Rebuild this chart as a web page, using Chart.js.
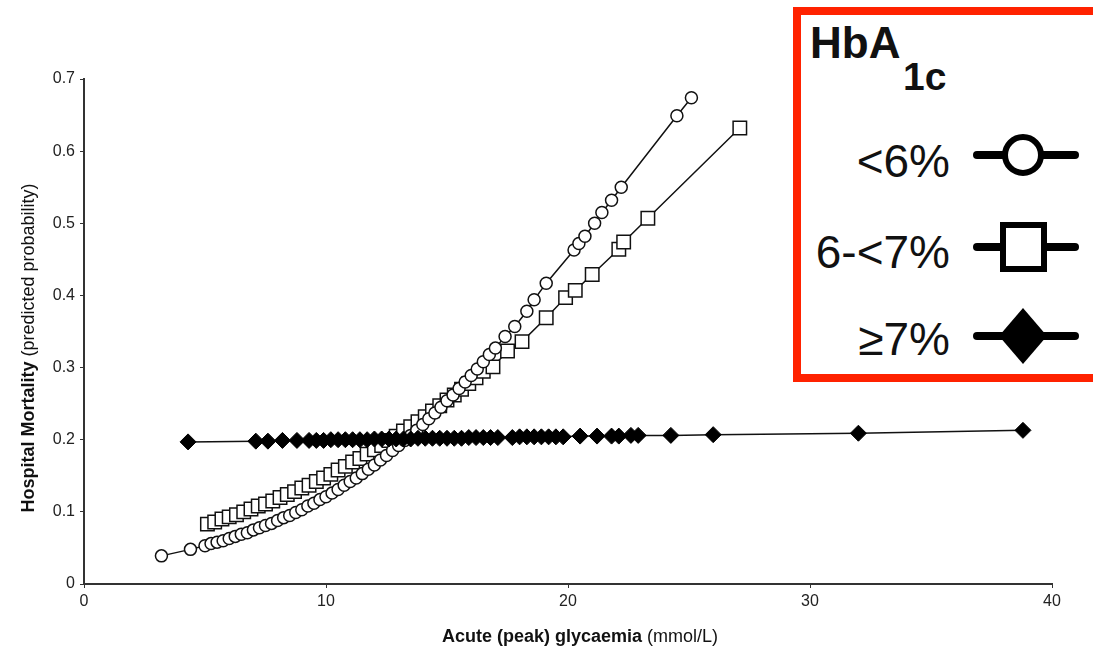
<!DOCTYPE html>
<html>
<head>
<meta charset="utf-8">
<script src="https://cdn.jsdelivr.net/npm/chart.js@4.4.0/dist/chart.umd.min.js"></script>
<style>
  body { margin: 0; background: #fff; }
  #wrap { position: relative; width: 1093px; height: 653px; }
  #grafico { position: absolute; left: 0; top: 0; }
  #capa { position: absolute; left: 0; top: 0; pointer-events: none; }
  #capa text { font-family: "Liberation Sans", Arial, sans-serif; fill: #111; }
</style>
</head>
<body>
<div id="wrap">
  <canvas id="grafico" width="1093" height="653"></canvas>
  <svg id="capa" width="1093" height="653">
    <!-- títulos de ejes -->
    <text x="580" y="642" text-anchor="middle" font-size="18"><tspan font-weight="bold">Acute (peak) glycaemia</tspan> (mmol/L)</text>
    <text transform="translate(34,348) rotate(-90)" text-anchor="middle" font-size="18"><tspan font-weight="bold">Hospital Mortality</tspan> (predicted probability)</text>

    <!-- leyenda HbA1c -->
    <rect x="797" y="11" width="310" height="367" fill="#fff" stroke="#ff2200" stroke-width="8"/>
    <text x="810" y="58" font-size="44" font-weight="bold">HbA</text>
    <text x="903" y="90" font-size="39" font-weight="bold">1c</text>

    <text x="950" y="177" font-size="46" text-anchor="end">&lt;6%</text>
    <text x="950" y="268" font-size="46" text-anchor="end">6-&lt;7%</text>
    <text x="950" y="355" font-size="46" text-anchor="end">≥7%</text>

    <g stroke="#000" stroke-width="8" stroke-linecap="round">
      <line x1="977" y1="155" x2="1075" y2="155"/>
      <line x1="977" y1="247" x2="1075" y2="247"/>
      <line x1="977" y1="336" x2="1075" y2="336"/>
    </g>
    <circle cx="1023" cy="155" r="18" fill="#fff" stroke="#000" stroke-width="6"/>
    <rect x="1003" y="225" width="41" height="44" fill="#fff" stroke="#000" stroke-width="6"/>
    <polygon points="1023,308 1047,336 1023,364 999,336" fill="#000"/>
  </svg>
</div>

<script>
// ==========================================
// DATOS
// ==========================================

// HbA1c < 6%  (círculos)
const circX = [3.2, 4.4,
  5.0, 5.25, 5.5, 5.75, 6.0, 6.25, 6.5, 6.75, 7.0, 7.25, 7.5, 7.75,
  8.0, 8.25, 8.5, 8.75, 9.0, 9.25, 9.5, 9.75, 10.0, 10.25, 10.5, 10.75,
  11.0, 11.25, 11.5, 11.75, 12.0, 12.25, 12.5, 12.75, 13.0, 13.25, 13.5, 13.75,
  14.0, 14.25, 14.5, 14.75, 15.0, 15.25, 15.5, 15.75, 16.0, 16.25, 16.5, 16.75, 17.0,
  17.4, 17.8, 18.3, 18.6, 19.1, 20.25, 20.45, 20.7, 21.1, 21.4, 21.8, 22.2, 24.5, 25.1];
const circY = [0.039, 0.048,
  0.053, 0.056, 0.058, 0.060, 0.063, 0.066, 0.069, 0.071, 0.075, 0.078, 0.081, 0.084,
  0.088, 0.092, 0.095, 0.099, 0.103, 0.108, 0.112, 0.117, 0.121, 0.126, 0.131, 0.137,
  0.142, 0.147, 0.153, 0.159, 0.165, 0.172, 0.178, 0.185, 0.192, 0.199, 0.206, 0.213,
  0.221, 0.229, 0.237, 0.245, 0.254, 0.262, 0.271, 0.280, 0.289, 0.298, 0.308, 0.318, 0.327,
  0.343, 0.357, 0.378, 0.394, 0.417, 0.463, 0.472, 0.482, 0.500, 0.515, 0.532, 0.550, 0.649, 0.674];

// HbA1c 6-<7%  (cuadrados)
const cuadX = [5.1, 5.4, 5.7, 6.0, 6.3, 6.6, 6.9, 7.2, 7.5, 7.8, 8.1, 8.4, 8.7,
  9.0, 9.3, 9.6, 9.9, 10.2, 10.5, 10.8, 11.1, 11.4, 11.7, 12.0, 12.3, 12.6, 12.9,
  13.2, 13.5, 13.8, 14.1, 14.4, 14.7, 15.0, 15.3, 15.6, 15.9, 16.2, 16.5,
  16.9, 17.5, 18.1, 19.1, 19.9, 20.3, 21.0, 22.1, 22.3, 23.3, 27.1];
const cuadY = [0.083, 0.086, 0.090, 0.093, 0.096, 0.100, 0.104, 0.108, 0.111, 0.115, 0.120, 0.124, 0.128,
  0.133, 0.137, 0.142, 0.147, 0.152, 0.158, 0.163, 0.169, 0.174, 0.180, 0.186, 0.192, 0.199, 0.205,
  0.212, 0.218, 0.225, 0.232, 0.240, 0.247, 0.255, 0.262, 0.270, 0.278, 0.286, 0.295,
  0.301, 0.323, 0.336, 0.369, 0.397, 0.407, 0.429, 0.464, 0.474, 0.507, 0.632];

// HbA1c >= 7%  (rombos)
const romboX = [4.3, 7.1, 7.6, 8.2, 8.8,
  9.3, 9.6, 9.9, 10.2, 10.5, 10.8, 11.1, 11.4, 11.7, 12.0, 12.3, 12.6, 12.9, 13.2,
  13.5, 13.8, 14.1, 14.4, 14.7, 15.0, 15.3, 15.6, 15.9, 16.2, 16.5, 16.8, 17.1,
  17.7, 18.0, 18.3, 18.6, 18.9, 19.2, 19.5, 19.8,
  20.5, 21.2, 21.8, 22.1, 22.6, 22.9, 24.25, 26.0, 32.0, 38.8];
const romboY = [0.197, 0.198, 0.198, 0.199, 0.199,
  0.199, 0.199, 0.199, 0.200, 0.200, 0.200, 0.200, 0.200, 0.200, 0.201, 0.201, 0.201, 0.201, 0.201,
  0.201, 0.202, 0.202, 0.202, 0.202, 0.202, 0.202, 0.202, 0.203, 0.203, 0.203, 0.203, 0.203,
  0.203, 0.204, 0.204, 0.204, 0.204, 0.204, 0.204, 0.204,
  0.205, 0.205, 0.205, 0.205, 0.206, 0.206, 0.206, 0.207, 0.209, 0.213];

const ticksX = [0, 10, 20, 30, 40];
const ticksY = [0, 0.1, 0.2, 0.3, 0.4, 0.5, 0.6, 0.7];

const puntos = (xs, ys) => xs.map((x, i) => ({ x: x, y: ys[i] }));

const fuente = { family: '"Liberation Sans", Arial, sans-serif', size: 16 };

new Chart(document.getElementById('grafico'), {
    type: 'scatter',
    data: {
        datasets: [
            {
                label: '≥7%',
                data: puntos(romboX, romboY),
                showLine: true,
                borderColor: '#111',
                borderWidth: 1.5,
                pointStyle: 'rectRot',
                pointRadius: 8,
                pointBackgroundColor: '#000',
                pointBorderColor: '#000',
                pointBorderWidth: 1
            },
            {
                label: '<6%',
                data: puntos(circX, circY),
                showLine: true,
                borderColor: '#111',
                borderWidth: 1.5,
                pointStyle: 'circle',
                pointRadius: 6,
                pointBackgroundColor: '#fff',
                pointBorderColor: '#111',
                pointBorderWidth: 1.5
            },
            {
                label: '6-<7%',
                data: puntos(cuadX, cuadY),
                showLine: true,
                borderColor: '#111',
                borderWidth: 1.5,
                pointStyle: 'rect',
                pointRadius: 9.5,
                pointBackgroundColor: '#fff',
                pointBorderColor: '#111',
                pointBorderWidth: 1.5
            }
        ]
    },
    options: {
        responsive: false,
        animation: false,
        devicePixelRatio: 1,
        layout: { padding: { left: 0, right: 41, top: 79, bottom: 0 } },
        plugins: {
            legend: { display: false },
            tooltip: { enabled: false }
        },
        scales: {
            x: {
                type: 'linear',
                min: 0,
                max: 40,
                afterBuildTicks: (scale) => { scale.ticks = ticksX.map(v => ({ value: v })); },
                afterFit: (scale) => { scale.height = 69; },
                ticks: { color: '#222', font: fuente, padding: 4 },
                grid: { drawOnChartArea: false, tickLength: 4, color: '#333' },
                border: { display: true, color: '#333', width: 2 }
            },
            y: {
                min: 0,
                max: 0.7,
                afterBuildTicks: (scale) => { scale.ticks = ticksY.map(v => ({ value: v })); },
                afterFit: (scale) => { scale.width = 84; },
                ticks: {
                    color: '#222',
                    font: fuente,
                    padding: 5,
                    callback: (v) => String(Math.round(v * 10) / 10)
                },
                grid: { drawOnChartArea: false, tickLength: 4, color: '#333' },
                border: { display: true, color: '#333', width: 2 }
            }
        }
    }
});
</script>
</body>
</html>
